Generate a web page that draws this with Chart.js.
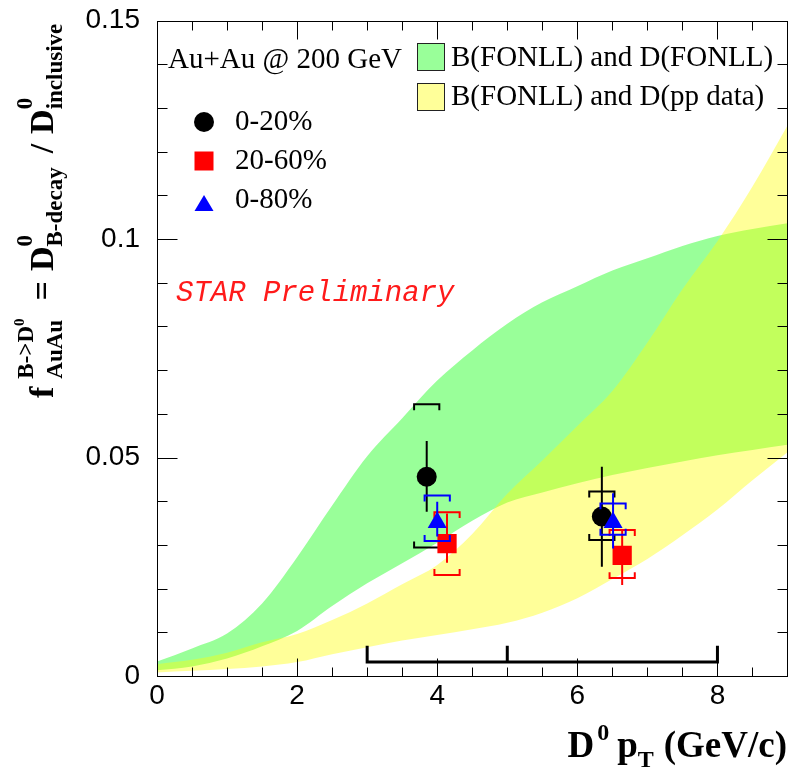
<!DOCTYPE html>
<html><head><meta charset="utf-8">
<script src="https://cdn.jsdelivr.net/npm/chart.js@4.4.1/dist/chart.umd.min.js"></script>
<style>html,body{margin:0;padding:0;background:#fff;}#wrap{width:788px;height:774px;position:relative;}</style>
</head><body><div id="wrap"><canvas id="c" width="788" height="774"></canvas></div>
<script>
// ---------- data ----------
const ptBins = [0,0.5,1,1.5,2,2.5,3,3.5,4,4.5,5,5.5,6,6.5,7,7.5,8,8.5,9];
const fonllUpper = [0.0033,0.0063,0.0097,0.0166,0.0272,0.0390,0.0503,0.0590,0.0676,0.0745,0.0806,0.0855,0.0892,0.0928,0.0956,0.0984,0.1007,0.1023,0.1036];
const fonllLower = [0.0013,0.0022,0.0040,0.0068,0.0103,0.0160,0.0212,0.0258,0.0305,0.0355,0.0397,0.0420,0.0441,0.0460,0.0476,0.0491,0.0505,0.0517,0.0529];
const ppUpper = [0.0027,0.0037,0.0053,0.0077,0.0096,0.0128,0.0166,0.0210,0.0254,0.0325,0.0417,0.0493,0.0572,0.0652,0.0763,0.0885,0.0995,0.1120,0.1260];
const ppLower = [0.0008,0.0012,0.0016,0.0022,0.0032,0.0050,0.0066,0.0081,0.0094,0.0107,0.0122,0.0145,0.0178,0.0222,0.0268,0.0322,0.0381,0.0448,0.0512];

const c020X = [3.85, 6.35];
const c020Y = [0.0456, 0.0365];
const c020StatLo = [0.0376, 0.0250];
const c020StatHi = [0.0538, 0.0479];
const c020SysLo = [0.0294, 0.0311];
const c020SysHi = [0.0622, 0.0422];

const c2060X = [4.14, 6.64];
const c2060Y = [0.0303, 0.0276];
const c2060StatLo = [0.0259, 0.0208];
const c2060StatHi = [0.0372, 0.0334];
const c2060SysLo = [0.0231, 0.0224];
const c2060SysHi = [0.0375, 0.0334];

const c080X = [4.00, 6.51];
const c080Y = [0.0351, 0.0351];
const c080StatLo = [0.0319, 0.0292];
const c080StatHi = [0.0399, 0.0418];
const c080SysLo = [0.0309, 0.0323];
const c080SysHi = [0.0413, 0.0395];

const binEdges = [3, 5, 8];
const binBracketY = 0.0032;
const binBracketTop = 0.0069;

const xTickValues = [0, 2, 4, 6, 8];
const xTickLabels = ['0', '2', '4', '6', '8'];
const yTickValues = [0, 0.05, 0.1, 0.15];
const yTickLabels = ['0', '0.05', '0.1', '0.15'];

const systemLabel = 'Au+Au @ 200 GeV';
const bandLabels = ['B(FONLL) and D(FONLL)', 'B(FONLL) and D(pp data)'];
const centLabels = ['0-20%', '20-60%', '0-80%'];
const prelimLabel = 'STAR Preliminary';

// ---------- styles ----------
const GREEN = 'rgba(0,255,0,0.4)';
const YELLOW = 'rgba(255,255,0,0.4)';
const SYS_HW = 0.18;      // bracket half-width (x units)
const SYS_HOOK = 0.00137; // bracket hook (y units)

const pts = (xs, ys) => xs.map((x, i) => ({x, y: ys[i]}));
function statSegs(xs, lo, hi) {
  const out = [];
  xs.forEach((x, i) => { out.push({x, y: lo[i]}, {x, y: hi[i]}, {x, y: null}); });
  return out;
}
function sysBrackets(xs, lo, hi) {
  const out = [];
  xs.forEach((x, i) => {
    out.push({x: x - SYS_HW, y: hi[i] - SYS_HOOK}, {x: x - SYS_HW, y: hi[i]}, {x: x + SYS_HW, y: hi[i]}, {x: x + SYS_HW, y: hi[i] - SYS_HOOK}, {x, y: null});
    out.push({x: x - SYS_HW, y: lo[i] + SYS_HOOK}, {x: x - SYS_HW, y: lo[i]}, {x: x + SYS_HW, y: lo[i]}, {x: x + SYS_HW, y: lo[i] + SYS_HOOK}, {x, y: null});
  });
  return out;
}
function binBracket() {
  const a = binEdges[0], b = binEdges[binEdges.length - 1];
  const out = [{x: a, y: binBracketTop}, {x: a, y: binBracketY}, {x: b, y: binBracketY}, {x: b, y: binBracketTop}, {x: b, y: null}];
  binEdges.slice(1, -1).forEach(e => out.push({x: e, y: binBracketY}, {x: e, y: binBracketTop}, {x: e, y: null}));
  return out;
}

const bandDs = (data, fill, color, order) => ({
  type: 'line', data: pts(ptBins, data), fill, backgroundColor: color,
  borderColor: 'rgba(0,0,0,0)', borderWidth: 0, pointRadius: 0,
  cubicInterpolationMode: 'monotone', order
});
const lineDs = (data, color, width, order) => ({
  type: 'line', data, borderColor: color, borderWidth: width, pointRadius: 0,
  fill: false, spanGaps: false, tension: 0, order
});
const markDs = (xs, ys, style, r, color, order) => ({
  type: 'line', data: pts(xs, ys), showLine: false, pointStyle: style, pointRadius: r,
  pointBackgroundColor: color, pointBorderColor: color, pointBorderWidth: 0, order
});

const datasets = [
  bandDs(fonllLower, false, GREEN, 20),
  bandDs(fonllUpper, '-1', GREEN, 19),
  bandDs(ppLower, false, YELLOW, 18),
  bandDs(ppUpper, '-1', YELLOW, 17),
  lineDs(binBracket(), '#000', 3, 16),
  lineDs(statSegs(c020X, c020StatLo, c020StatHi), '#000', 2, 12),
  lineDs(sysBrackets(c020X, c020SysLo, c020SysHi), '#000', 2, 12),
  markDs(c020X, c020Y, 'circle', 10, '#000', 11),
  lineDs(statSegs(c2060X, c2060StatLo, c2060StatHi), '#ff0000', 2, 10),
  lineDs(sysBrackets(c2060X, c2060SysLo, c2060SysHi), '#ff0000', 2, 10),
  markDs(c2060X, c2060Y, 'rect', 13.6, '#ff0000', 9),
  lineDs(statSegs(c080X, c080StatLo, c080StatHi), '#0000ff', 2, 8),
  lineDs(sysBrackets(c080X, c080SysLo, c080SysHi), '#0000ff', 2, 8),
  markDs(c080X, c080Y, 'triangle', 11, '#0000ff', 7),
];

// ---------- decorations ----------
const MAIN_Y = 'bold 34px "Liberation Serif"';
const SUB_Y = 'bold 23px "Liberation Serif"';
const SUBSUB_Y = 'bold 15px "Liberation Serif"';
const MAIN_X = 'bold 37px "Liberation Serif"';
const SUB_X = 'bold 24px "Liberation Serif"';

function richWidth(ctx, items) {
  let w = 0;
  for (const it of items) {
    if (it.gap) { w += it.gap; continue; }
    if (it.stack) {
      let m = 0;
      for (const line of it.stack) { let lw = 0; for (const p of line) { ctx.font = p.f; lw += ctx.measureText(p.t).width; } m = Math.max(m, lw); }
      w += m; continue;
    }
    ctx.font = it.f; w += ctx.measureText(it.t).width;
  }
  return w;
}
function drawRich(ctx, items, x0, y0) {
  let x = x0;
  for (const it of items) {
    if (it.gap) { x += it.gap; continue; }
    if (it.stack) {
      let m = 0;
      for (const line of it.stack) {
        let lx = x;
        for (const p of line) { ctx.font = p.f; ctx.fillText(p.t, lx, y0 + (p.dy || 0)); lx += ctx.measureText(p.t).width; }
        m = Math.max(m, lx - x);
      }
      x += m; continue;
    }
    ctx.font = it.f; ctx.fillText(it.t, x, y0 + (it.dy || 0)); x += ctx.measureText(it.t).width;
  }
}

const yTitle = [
  {t: 'f', f: MAIN_Y}, {gap: 8},
  {stack: [[{t: 'B->D', f: SUB_Y, dy: -20}, {t: '0', f: SUBSUB_Y, dy: -29}], [{t: 'AuAu', f: SUB_Y, dy: 9}]]},
  {gap: 18}, {t: '=', f: MAIN_Y}, {gap: 10},
  {t: 'D', f: MAIN_Y},
  {stack: [[{t: '0', f: SUB_Y, dy: -21}], [{t: 'B-decay', f: SUB_Y, dy: 9}]]},
  {gap: 14}, {t: '/', f: MAIN_Y}, {gap: 10},
  {t: 'D', f: MAIN_Y},
  {stack: [[{t: '0', f: SUB_Y, dy: -21}], [{t: 'inclusive', f: SUB_Y, dy: 9}]]},
];
const xTitle = [
  {t: 'D', f: MAIN_X}, {gap: 3},
  {stack: [[{t: '0', f: SUB_X, dy: -17}]]}, {gap: 8},
  {t: 'p', f: MAIN_X},
  {stack: [[{t: 'T', f: SUB_X, dy: 10}]]}, {gap: 10},
  {t: '(GeV/c)', f: MAIN_X},
];

const decor = {
  id: 'decor',
  afterDatasetsDraw(chart) {
    const {ctx, chartArea: a, scales: {x, y}} = chart;
    ctx.save();
    ctx.strokeStyle = '#000';
    ctx.lineWidth = 1;
    ctx.beginPath();
    const L = Math.round(a.left) + 0.5, R = Math.round(a.right) - 0.5;
    const T = Math.round(a.top) + 0.5, B = Math.round(a.bottom) + 0.5;
    for (let k = 0; k <= 18; k++) {
      const v = k * 0.5;
      const major = xTickValues.some(t => Math.abs(t - v) < 1e-9);
      const len = major ? 18 : 9;
      const px = Math.min(R, Math.round(x.getPixelForValue(v)) + 0.5);
      ctx.moveTo(px, B); ctx.lineTo(px, B - len);
      ctx.moveTo(px, T); ctx.lineTo(px, T + len);
    }
    for (let k = 0; k <= 15; k++) {
      const v = k * 0.01;
      const major = yTickValues.some(t => Math.abs(t - v) < 1e-9);
      const len = major ? 20 : 10;
      const py = Math.round(y.getPixelForValue(v)) + 0.5;
      ctx.moveTo(L, py); ctx.lineTo(L + len, py);
      ctx.moveTo(R, py); ctx.lineTo(R - len, py);
    }
    ctx.stroke();
    ctx.strokeRect(L, T, R - L, B - T);
    ctx.restore();
  },
  afterDraw(chart) {
    const ctx = chart.ctx;
    ctx.save();
    ctx.fillStyle = '#000';
    ctx.textBaseline = 'alphabetic';
    ctx.textAlign = 'left';
    // y title (rotated)
    ctx.save();
    ctx.translate(53, 398);
    ctx.rotate(-Math.PI / 2);
    drawRich(ctx, yTitle, 0, 0);
    ctx.restore();
    // x title (right aligned)
    const w = richWidth(ctx, xTitle);
    drawRich(ctx, xTitle, 787 - w, 757);
    // legend texts
    ctx.font = '29px "Liberation Serif"';
    ctx.fillText(systemLabel, 168, 68);
    ctx.fillText(bandLabels[0], 451, 66);
    ctx.fillText(bandLabels[1], 451, 105);
    ctx.fillText(centLabels[0], 235, 130);
    ctx.fillText(centLabels[1], 235, 169);
    ctx.fillText(centLabels[2], 235, 208);
    // legend boxes
    ctx.lineWidth = 1;
    ctx.strokeStyle = '#222';
    ctx.fillStyle = GREEN; ctx.fillRect(417.5, 43.5, 27, 27);
    ctx.strokeRect(417.5, 43.5, 27, 27);
    ctx.fillStyle = YELLOW; ctx.fillRect(417.5, 83.5, 27, 27);
    ctx.strokeRect(417.5, 83.5, 27, 27);
    // legend markers
    ctx.fillStyle = '#000';
    ctx.beginPath(); ctx.arc(204, 122, 10, 0, Math.PI * 2); ctx.fill();
    ctx.fillStyle = '#ff0000';
    ctx.fillRect(194.5, 151.5, 19, 19);
    ctx.fillStyle = '#0000ff';
    ctx.beginPath(); ctx.moveTo(204, 195); ctx.lineTo(213.5, 211); ctx.lineTo(194.5, 211); ctx.closePath(); ctx.fill();
    // preliminary
    ctx.fillStyle = '#ff1a1a';
    ctx.font = 'italic 29px "Liberation Mono"';
    ctx.fillText(prelimLabel, 176, 301);
    ctx.restore();
  }
};

const zeroPad = s => { s.paddingTop = 0; s.paddingBottom = 0; s.paddingLeft = 0; s.paddingRight = 0; };

new Chart(document.getElementById('c'), {
  type: 'line',
  data: {datasets},
  options: {
    responsive: false,
    devicePixelRatio: 1,
    animation: false,
    events: [],
    layout: {autoPadding: false, padding: {top: 20.5, right: 0.5, left: 0, bottom: 0}},
    plugins: {legend: {display: false}, tooltip: {enabled: false}, filler: {propagate: false}},
    scales: {
      x: {
        type: 'linear', min: 0, max: 9, position: 'bottom',
        grid: {display: false, drawTicks: false}, border: {display: false},
        afterFit: s => { s.height = 98; zeroPad(s); },
        ticks: {
          stepSize: 2, includeBounds: false, autoSkip: false, maxRotation: 0, padding: 3,
          color: '#000', font: {family: 'Liberation Sans', size: 28},
          callback: v => { const i = xTickValues.findIndex(t => Math.abs(t - v) < 1e-9); return i >= 0 ? xTickLabels[i] : ''; }
        }
      },
      y: {
        type: 'linear', min: 0, max: 0.15, position: 'left',
        grid: {display: false, drawTicks: false}, border: {display: false},
        afterFit: s => { s.width = 157; zeroPad(s); },
        ticks: {
          stepSize: 0.05, autoSkip: false, padding: 17,
          color: '#000', font: {family: 'Liberation Sans', size: 28},
          callback: v => { const i = yTickValues.findIndex(t => Math.abs(t - v) < 1e-9); return i >= 0 ? yTickLabels[i] : ''; }
        }
      }
    }
  },
  plugins: [decor]
});
</script>
</body></html>
